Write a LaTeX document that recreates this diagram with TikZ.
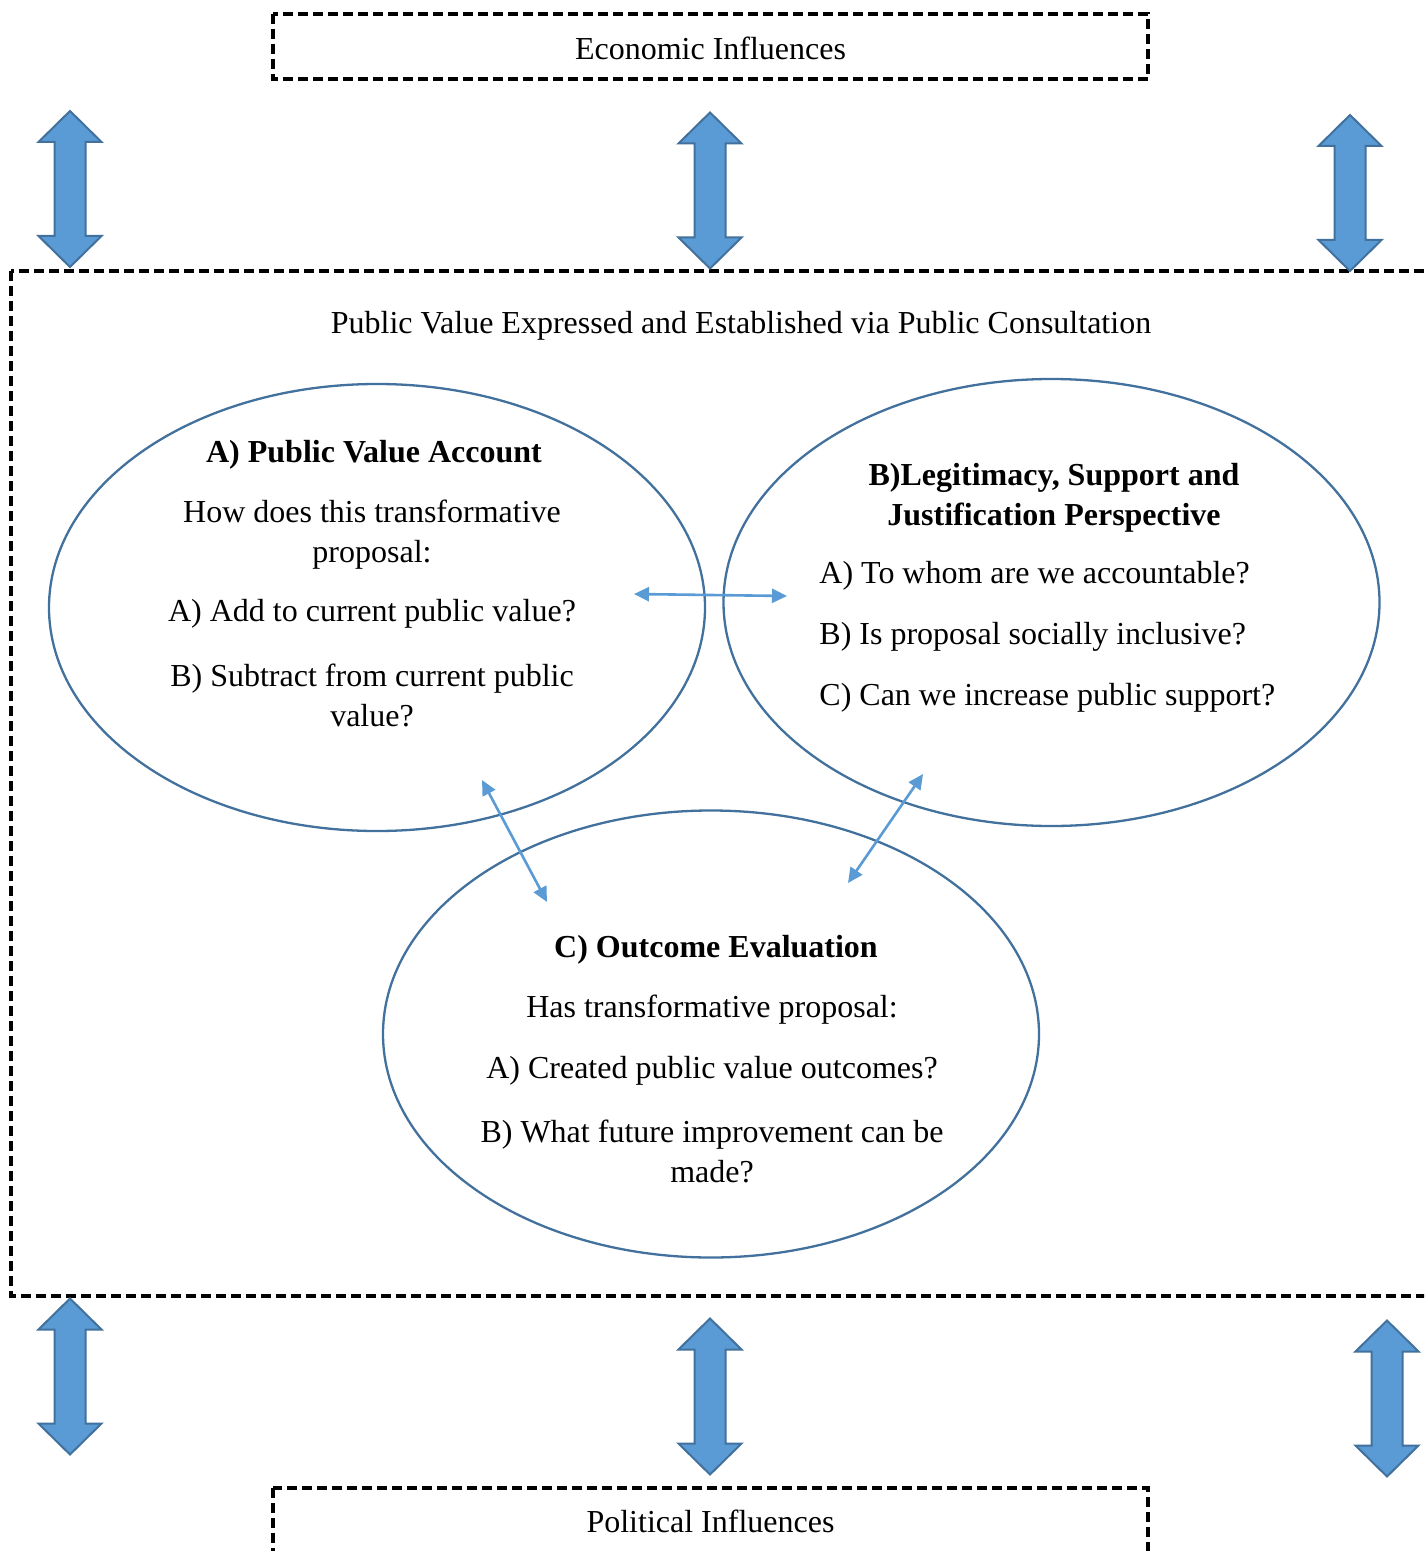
\documentclass[tikz,border=0pt]{standalone}
\usepackage{fontspec}
\setmainfont{Liberation Serif}
\usetikzlibrary{shapes.geometric,arrows.meta}
\definecolor{fillblue}{HTML}{5B9BD5}
\definecolor{edgeblue}{HTML}{41719C}
\begin{document}
\begin{tikzpicture}[x=0.5pt,y=-0.5pt,
  every node/.style={font=\fontsize{16}{20}\selectfont, inner sep=0pt},
  dashbox/.style={draw=black, line width=1.7pt, dash pattern=on 5pt off 2.5pt},
  bubble/.style={ellipse, draw=edgeblue, line width=1.15pt, minimum width=328pt, minimum height=223.5pt},
  conn/.style={draw=fillblue, line width=1.3pt, {Triangle[length=7.5pt,width=7pt]}-{Triangle[length=7.5pt,width=7pt]}},
  blockarrow/.pic={
    \draw[fill=fillblue, draw=edgeblue, line width=1pt, line join=miter]
      (0,-78) -- (31.5,-47) -- (15.5,-47) -- (15.5,47) -- (31.5,47) -- (0,78)
      -- (-31.5,47) -- (-15.5,47) -- (-15.5,-47) -- (-31.5,-47) -- cycle;
  }]
\clip (0,0) rectangle (1424,1551);
\fill[white] (0,0) rectangle (1424,1551);

% outer boxes
\draw[dashbox] (273,14) rectangle (1148,79);
\node (econ) at (710.5,48) {Economic Influences};
\draw[dashbox] (11,271) rectangle (1440,1296);
\node (title) at (741,326) {Public Value Expressed and Established via Public Consultation};
\draw[dashbox] (273,1488) rectangle (1148,1570);
\node (pol) at (710.5,1521) {Political Influences};

% block arrows
\pic at (70,189) {blockarrow};
\pic at (710,190.5) {blockarrow};
\pic at (1350,193) {blockarrow};
\pic at (70,1376.5) {blockarrow};
\pic at (710,1396.5) {blockarrow};
\pic at (1387,1398.5) {blockarrow};

% ellipses
\node[bubble] (A) at (377,607.5) {};
\node[bubble] (B) at (1051.5,602.5) {};
\node[bubble] (C) at (711,1034) {};

% text A
\node[font=\fontsize{16}{20}\selectfont\bfseries] (Ah) at (374,455) {A) Public Value Account};
\node[align=center] (A1) at (372,534.5) {How does this transformative\\proposal:};
\node (A2) at (372,614) {A) Add to current public value?};
\node[align=center] (A3) at (372,695.5) {B) Subtract from current public\\value?};

% text B
\node[font=\fontsize{16}{20}\selectfont\bfseries, align=center] (Bh) at (1054,498) {B)Legitimacy, Support and\\Justification Perspective};
\node[anchor=west] (B1) at (819,576) {A) To whom are we accountable?};
\node[anchor=west] (B2) at (819,637) {B) Is proposal socially inclusive?};
\node[anchor=west] (B3) at (819,698) {C) Can we increase public support?};

% text C
\node[font=\fontsize{16}{20}\selectfont\bfseries] (Ch) at (716,950) {C) Outcome Evaluation};
\node (C1) at (712,1010) {Has transformative proposal:};
\node (C2) at (712,1071) {A) Created public value outcomes?};
\node[align=center] (C3) at (712,1151) {B) What future improvement can be\\made?};

% connectors
\coordinate (ab1) at (634,594);
\coordinate (ab2) at (787,596);
\coordinate (ac1) at (482,780);
\coordinate (ac2) at (547,902);
\coordinate (bc1) at (923,774);
\coordinate (bc2) at (848,883);
\draw[conn] (ab1) -- (ab2);
\draw[conn] (ac1) -- (ac2);
\draw[conn] (bc1) -- (bc2);
\end{tikzpicture}
\end{document}
